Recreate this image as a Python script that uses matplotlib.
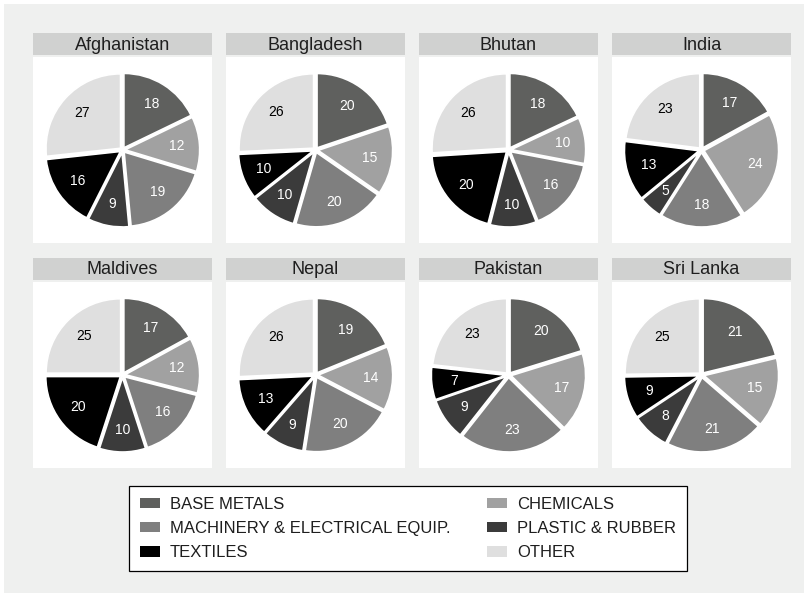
import matplotlib
matplotlib.use("Agg")
import matplotlib.pyplot as plt
from matplotlib.patches import Rectangle, Patch

plt.rcParams['font.family'] = ['Liberation Sans', 'DejaVu Sans']

countries = ["Afghanistan", "Bangladesh", "Bhutan", "India",
             "Maldives", "Nepal", "Pakistan", "Sri Lanka"]
sectors = ["BASE METALS", "CHEMICALS", "MACHINERY & ELECTRICAL EQUIP.",
           "PLASTIC & RUBBER", "TEXTILES", "OTHER"]

# import shares (%) by sector, in the order of `sectors`
afghanistan = [18, 12, 19, 9, 16, 27]
bangladesh = [20, 15, 20, 10, 10, 26]
bhutan = [18, 10, 16, 10, 20, 26]
india = [17, 24, 18, 5, 13, 23]
maldives = [17, 12, 16, 10, 20, 25]
nepal = [19, 14, 20, 9, 13, 26]
pakistan = [20, 17, 23, 9, 7, 23]
sri_lanka = [21, 15, 21, 8, 9, 25]
shares = [afghanistan, bangladesh, bhutan, india,
          maldives, nepal, pakistan, sri_lanka]

colors = ["#5f605e", "#a1a1a1", "#7f7f7f", "#3b3b3b", "#000000", "#dfdfdf"]
label_colors = ["white", "white", "white", "white", "white", "black"]

W, H = 808, 596
fig = plt.figure(figsize=(W / 100, H / 100), dpi=100, facecolor="white")


def fx(px):
    return px / W


def fy(py):
    return 1 - py / H


# light grey graph region (behind the panels)
fig.patches.append(Rectangle((fx(4), fy(593)), fx(800), 589 / H,
                             transform=fig.transFigure, facecolor="#eff0ef",
                             edgecolor="none", zorder=-5))

col_x = [33, 226, 419, 612]
panel_w = 179
bar_h = 22
plot_h = 186
row_top = [33, 258]

for k, (name, vals) in enumerate(zip(countries, shares)):
    r, c = divmod(k, 4)
    x0 = col_x[c]
    y0 = row_top[r]
    # title strip
    fig.patches.append(Rectangle((fx(x0), fy(y0 + bar_h)), fx(panel_w), bar_h / H,
                                 transform=fig.transFigure, facecolor="#d0d1d0",
                                 edgecolor="none", zorder=1))
    fig.text(fx(x0 + panel_w / 2), fy(y0 + bar_h / 2 + 1), name,
             ha="center", va="center", fontsize=13, color="#1e1e1e")
    # pie panel
    top = y0 + bar_h + 2
    ax = fig.add_axes([fx(x0), fy(top + plot_h), fx(panel_w), plot_h / H])
    wedges, texts = ax.pie(vals, colors=colors, startangle=90, counterclock=False,
                           explode=[0.035] * len(vals), radius=1.0,
                           labels=[str(v) for v in vals], labeldistance=0.7,
                           wedgeprops=dict(edgecolor="white", linewidth=1.2))
    for t, tc in zip(texts, label_colors):
        t.set_ha("center")
        t.set_va("center")
        t.set_color(tc)
        t.set_fontsize(10)
    ax.set_frame_on(True)
    for s in ax.spines.values():
        s.set_visible(False)
    ax.set_facecolor("white")
    ax.set_xticks([])
    ax.set_yticks([])
    ax.set_xlim(-1.2, 1.2)
    ax.set_ylim(-1.25, 1.25)
    ax.set_aspect("equal", adjustable="datalim")

# legend filled row by row: reorder for matplotlib's column-wise fill
order = [0, 2, 4, 1, 3, 5]
handles = [Patch(facecolor=colors[i], edgecolor="none", label=sectors[i]) for i in order]
leg = fig.legend(handles=handles, ncol=2, loc="upper left",
                 bbox_to_anchor=(fx(129), fy(486)),
                 fontsize=12, frameon=True, fancybox=False,
                 edgecolor="black", framealpha=1, handlelength=1.2,
                 handleheight=0.6, handletextpad=0.6, labelspacing=0.55,
                 columnspacing=2.2, borderpad=0.65, borderaxespad=0)
leg.get_frame().set_linewidth(0.9)
for t in leg.get_texts():
    t.set_color("#1e1e1e")

fig.savefig("out.png", dpi=100, facecolor=fig.get_facecolor())
